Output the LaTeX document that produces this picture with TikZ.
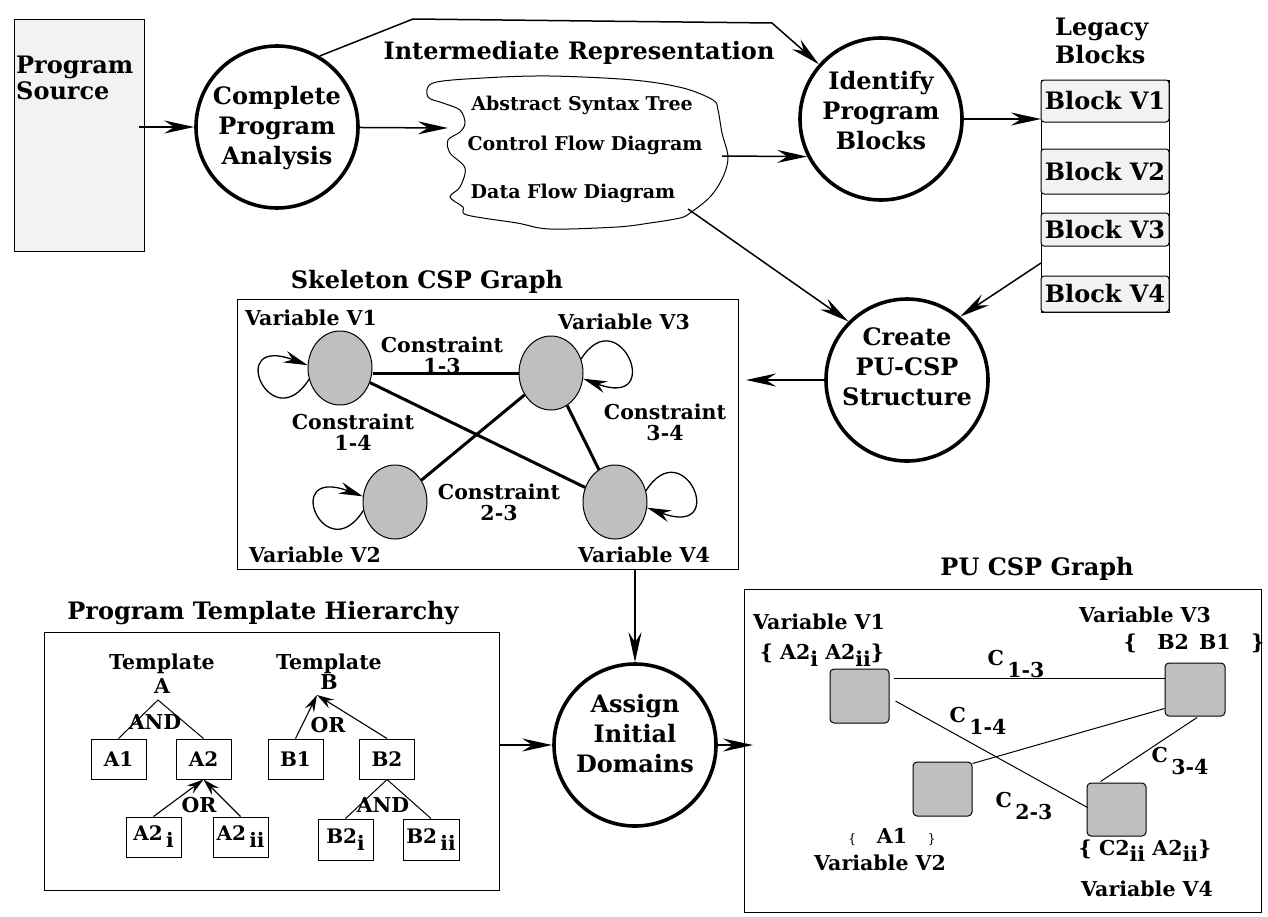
\documentclass[tikz,border=0pt]{standalone}
\usepackage{fontspec}
\setmainfont{DejaVu Serif}
\usetikzlibrary{arrows.meta,calc,shapes.geometric}
\newcommand\dn[2]{\raisebox{-#1}{#2}}
\begin{document}
\begin{tikzpicture}[x=1pt,y=-1pt,font=\bfseries]
\tikzset{
 arr/.style={-{Stealth[length=30pt,width=13pt,inset=10pt]}, line width=1.5pt},
 larr/.style={-{Stealth[length=24pt,width=12pt,inset=8pt]}, line width=1.3pt},
 sarr/.style={-{Stealth[length=17pt,width=10pt,inset=6pt]}, line width=1.1pt},
 proc/.style={circle, draw, line width=3.6pt, minimum size=162pt, inner sep=0},
 bigt/.style={font=\fontsize{24}{30}\selectfont\bfseries, align=center, inner sep=0},
 medt/.style={font=\fontsize{20.5}{22}\selectfont\bfseries, align=center, inner sep=0},
 cldt/.style={font=\fontsize{19}{20}\selectfont\bfseries, inner sep=0},
 frame/.style={draw, line width=1.2pt, inner sep=0, anchor=north west},
 blk/.style={draw, rounded corners=3pt, fill=gray!10, line width=1pt, minimum width=128pt, inner sep=0, font=\fontsize{24}{26}\selectfont\bfseries},
 ell/.style={ellipse, draw, fill=gray!50, line width=1pt, minimum width=64pt, minimum height=74pt, inner sep=0},
 cedge/.style={line width=3pt},
 pedge/.style={line width=1pt},
 sq/.style={draw, rounded corners=4pt, fill=gray!50, line width=1pt, minimum width=59pt, minimum height=54pt, inner sep=0},
 tbox/.style={draw, line width=1pt, minimum width=55pt, minimum height=40pt, inner sep=0, font=\fontsize{20}{22}\selectfont\bfseries},
}
\useasboundingbox (0,0) rectangle (1268,916);

% ---------- top row ----------
\node[frame, fill=gray!10, minimum width=130pt, minimum height=232pt] (src) at (14,19) {};
\node[bigt, align=left, anchor=west, font=\fontsize{24}{26}\selectfont\bfseries] (srct) at (16,78) {Program\\Source};
\node[proc] (cpa) at (277,127) {};
\node[bigt] (cpat) at (277,128) {Complete\\Program\\Analysis};
\node[bigt] (irt) at (579,53) {Intermediate Representation};
\draw[line width=1pt] plot[smooth cycle, tension=0.55] coordinates {
 (428,97) (433,83) (483,78) (550,76) (633,80) (683,88) (713,100) (718,110)
 (722,133) (728,157) (723,177) (710,197) (690,213) (680,218) (650,223) (617,227)
 (550,229) (517,223) (467,215) (463,207) (450,197) (460,187) (465,168) (450,153)
 (448,140) (460,132) (465,123) (460,110) (443,103)};
\coordinate (clin) at (448,128);
\coordinate (clout) at (722,156);
\coordinate (cldn) at (688,209);
\node[cldt] (ast) at (582,105) {Abstract Syntax Tree};
\node[cldt] (cfd) at (585,145) {Control Flow Diagram};
\node[cldt] (dfd) at (573,193) {Data Flow Diagram};

\node[proc] (ipb) at (881,119) {};
\node[bigt] (ipbt) at (881,111) {Identify\\Program\\Blocks};
\node[bigt, align=left, anchor=west, font=\fontsize{24}{28}\selectfont\bfseries] (lbt) at (1055,41) {Legacy\\Blocks};
\node[frame, line width=1pt, minimum width=128pt, minimum height=232pt] (stack) at (1041,80) {};
\node[blk, minimum height=42pt] (b1) at (1105,101) {Block V1};
\node[blk, minimum height=45pt] (b2) at (1105,171.5) {Block V2};
\node[blk, minimum height=33pt] (b3) at (1105,229.5) {Block V3};
\node[blk, minimum height=36pt] (b4) at (1105,294) {Block V4};
\coordinate (stkout) at (1041,263);

\node[proc] (cps) at (907,380) {};
\node[bigt] (cpst) at (907,367) {Create\\PU-CSP\\Structure};

% ---------- skeleton CSP graph ----------
\node[bigt] (skt) at (427,282) {Skeleton CSP Graph};
\node[frame, line width=1pt, minimum width=501pt, minimum height=270pt] (skel) at (237,299) {};
\node[ell] (v1) at (340,368) {};
\node[ell] (v3) at (551,373) {};
\node[ell] (v2) at (395,502) {};
\node[ell] (v4) at (615,502) {};
\draw[cedge] (v1.east |- v3) -- (v3.west);
\draw[cedge] (v1) -- (v4);
\draw[cedge] (v2) -- (v3);
\draw[cedge] (v3) -- (v4);
\draw[larr] (v1.200) .. controls +(-38,60) and +(-83,-31) .. (v1.175);
\draw[larr] (v2.195) .. controls +(-38,60) and +(-83,-31) .. (v2.170);
\draw[larr] (v3.25) .. controls +(38,-60) and +(83,31) .. (v3.350);
\draw[larr] (v4.20) .. controls +(38,-60) and +(83,31) .. (v4.350);
\node[medt] (sv1) at (311,318) {Variable V1};
\node[medt] (sv3) at (624,322) {Variable V3};
\node[medt] (sv2) at (315,555) {Variable V2};
\node[medt] (sv4) at (644,555) {Variable V4};
\node[medt, font=\fontsize{20.5}{21}\selectfont\bfseries] (k13) at (442,355) {Constraint\\1-3};
\node[medt, font=\fontsize{20.5}{21}\selectfont\bfseries] (k14) at (353,432) {Constraint\\1-4};
\node[medt, font=\fontsize{20.5}{21}\selectfont\bfseries] (k23) at (499,502) {Constraint\\2-3};
\node[medt, font=\fontsize{20.5}{21}\selectfont\bfseries] (k34) at (665,422) {Constraint\\3-4};

% ---------- assign ----------
\node[proc] (asg) at (635,745) {};
\node[bigt] (asgt) at (635,734) {Assign\\Initial\\Domains};

% ---------- program template hierarchy ----------
\node[bigt] (ptht) at (263,613) {Program Template Hierarchy};
\node[frame, minimum width=455pt, minimum height=258pt] (tmpl) at (44,632) {};
\node[medt, font=\fontsize{20.5}{24}\selectfont\bfseries] (ta) at (162,674) {Template\\A};
\node[medt, font=\fontsize{20.5}{20}\selectfont\bfseries] (tb) at (329,672) {Template\\B};
\coordinate (tapex) at (158,700);
\coordinate (tbpex) at (317,695);
\node[tbox] (a1) at (118.5,759) {A1};
\node[tbox] (a2) at (203.5,759) {A2};
\node[tbox] (bb1) at (295.5,759) {B1};
\node[tbox] (bb2) at (387,759) {B2};
\node[tbox] (a2i) at (153.5,837) {A2\,\dn{0.35em}{i}};
\node[tbox] (a2ii) at (240.5,837) {A2\,\dn{0.35em}{ii}};
\node[tbox, minimum height=41pt] (b2i) at (345.5,839.5) {B2\dn{0.35em}{i}};
\node[tbox, minimum width=56pt, minimum height=41pt] (b2ii) at (431,839.5) {B2\,\dn{0.35em}{ii}};
\draw[pedge] (a1.north) -- (tapex) -- (a2.north);
\draw[sarr] (bb1.north) -- (tbpex);
\draw[sarr] (bb2.north) -- (tbpex);
\draw[sarr] (a2i.north) -- (a2.south);
\draw[sarr] (a2ii.north) -- (a2.south);
\draw[pedge] (b2i.north) -- (bb2.south) -- (b2ii.north);
\node[medt] (and1) at (155,722) {AND};
\node[medt] (or1) at (328,725) {OR};
\node[medt] (or2) at (199,805) {OR};
\node[medt] (and2) at (383,805) {AND};

% ---------- PU CSP graph ----------
\node[bigt] (put) at (1037,569) {PU CSP Graph};
\node[frame, minimum width=517pt, minimum height=323pt] (pu) at (744,589) {};
\node[sq] (p1) at (859.5,696) {};
\node[sq, minimum width=60pt, minimum height=53pt] (p3) at (1195,689.5) {};
\node[sq] (p2) at (942.5,789) {};
\node[sq, minimum height=53pt] (p4) at (1116.5,809.5) {};
\draw[pedge] ($(p1.north east)+(4,10)$) -- ($(p3.north west)+(0,16)$);
\draw[pedge] ($(p1.east)+(6,5)$) -- ($(p4.west)+(1,-2)$);
\draw[pedge] ($(p2.north east)+(0,2)$) -- ($(p3.south west)+(0,-8)$);
\draw[pedge] ($(p3.south)+(2,1)$) -- ($(p4.north west)+(14,-1)$);
\node[medt] (pv1) at (819,622) {Variable V1};
\node[medt] (pd1) at (822,655) {\{ A2\dn{0.35em}{i} A2\dn{0.35em}{ii}\}};
\node[medt] (pv3) at (1145,615) {Variable V3};
\node[medt] (pd3) at (1194,643) {\{\quad B2\enspace B1\quad\}};
\node[medt] (c13) at (1016,664) {C\,\dn{0.6em}{1-3}};
\node[medt] (c14) at (978,721) {C\,\dn{0.6em}{1-4}};
\node[medt] (c34) at (1180,761) {C\,\dn{0.6em}{3-4}};
\node[medt] (c23) at (1024,806) {C\,\dn{0.6em}{2-3}};
\node[medt] (pd2) at (892,837) {{\mdseries\fontsize{13}{13}\selectfont\{}\quad A1\quad{\mdseries\fontsize{13}{13}\selectfont\}}};
\node[medt] (pv2) at (880,863) {Variable V2};
\node[medt] (pd4) at (1145,851) {\{ C2\dn{0.3em}{ii} A2\dn{0.3em}{ii}\}};
\node[medt] (pv4) at (1147,889) {Variable V4};

% ---------- connectors ----------
\draw[arr] ([xshift=-6pt]src.east |- cpa) -- (cpa);
\draw[arr] (cpa.59) -- (413,19) -- (772,23) -- (ipb);
\draw[arr] (cpa) -- (clin);
\draw[arr] (clout) -- (ipb.207);
\draw[arr] (ipb) -- (ipb -| stack.west);
\draw[arr] (cldn) -- (cps.135);
\draw[arr] (stkout) -- (cps.50);
\draw[arr] (cps) -- ($(cps -| skel.east)+(7,0)$);
\draw[arr] (asg.north |- skel.south) -- (asg);
\draw[arr] (tmpl.east |- asg) -- (asg);
\draw[arr] (asg) -- ($(asg -| pu.west)+(9,0)$);
\end{tikzpicture}
\end{document}
